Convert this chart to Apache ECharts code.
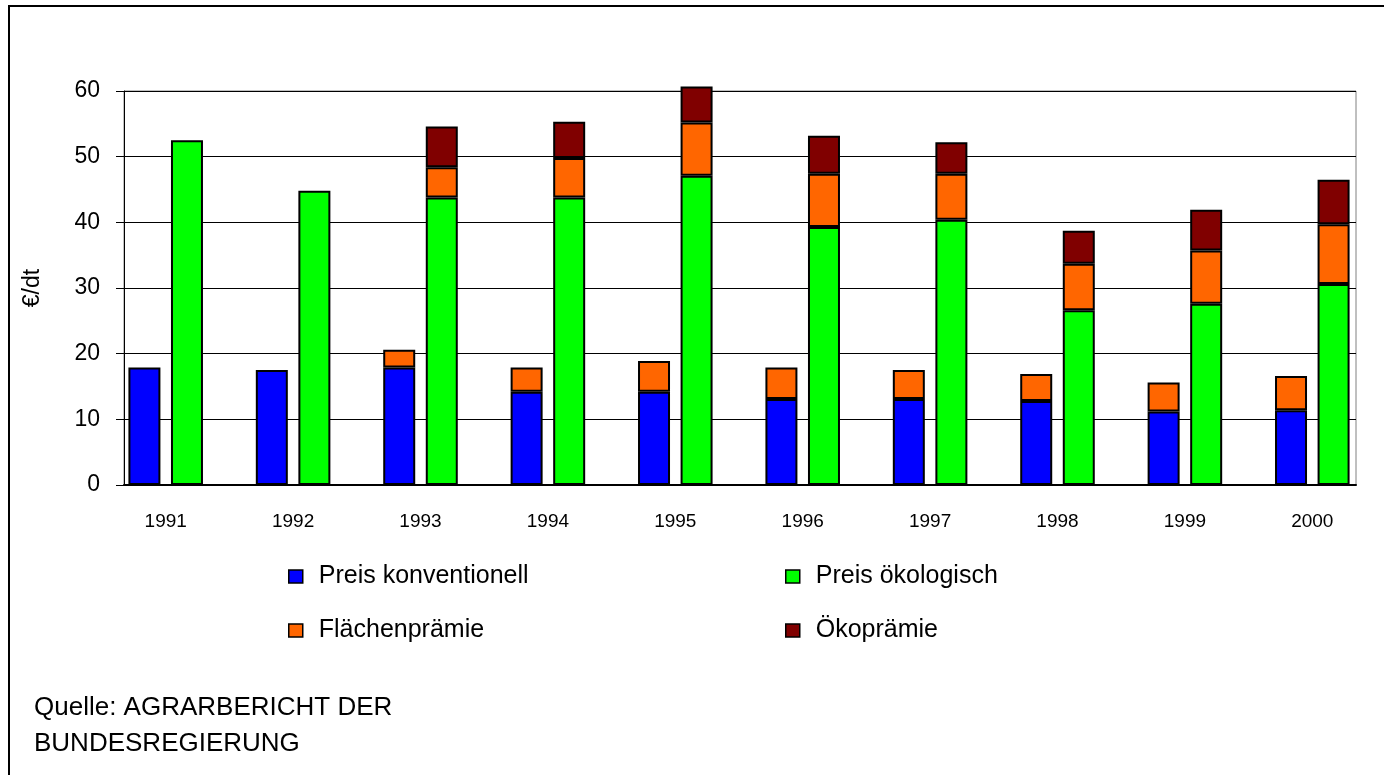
<!DOCTYPE html>
<html>
<head>
<meta charset="utf-8">
<script src="https://cdn.jsdelivr.net/npm/echarts@6/dist/echarts.min.js"></script>
<style>
  html, body { margin: 0; padding: 0; background: #fff; }
  #main { width: 1384px; height: 775px; }
</style>
</head>
<body>
<div id="main"></div>
<script>
const years = ['1991', '1992', '1993', '1994', '1995', '1996', '1997', '1998', '1999', '2000'];
const preisKonv = [17.9, 17.5, 17.9, 14.2, 14.2, 13.1, 13.1, 12.8, 11.2, 11.4];
const flaecheKonv = ['-', '-', 2.7, 3.7, 4.7, 4.8, 4.4, 4.1, 4.4, 5.2];
const preisOeko = [52.5, 44.8, 43.8, 43.8, 47.1, 39.3, 40.4, 26.6, 27.6, 30.6];
const flaecheOeko = ['-', '-', 4.6, 6.0, 8.1, 8.1, 7.0, 7.1, 8.1, 9.1];
const oekoPraemie = ['-', '-', 6.2, 5.5, 5.5, 5.8, 4.8, 5.0, 6.2, 6.8];
const yTicks = [0, 10, 20, 30, 40, 50, 60];

const font = 'Liberation Sans, Arial, sans-serif';
const border = { borderColor: '#000', borderWidth: 2 };

let chartDom = document.getElementById('main');
let myChart = echarts.init(chartDom);
let option;

function legendAt(name, left, top) {
  return {
    data: [name],
    left: left,
    top: top,
    padding: 0,
    icon: 'rect',
    itemWidth: 14,
    itemHeight: 13,
    selectedMode: false,
    itemStyle: { borderColor: '#000', borderWidth: 1.5 },
    textStyle: { fontFamily: font, fontSize: 25, color: '#000', padding: [0, 0, 0, 11] }
  };
}

option = {
  animation: false,
  backgroundColor: '#fff',
  textStyle: { fontFamily: font },
  graphic: [
    {
      type: 'rect',
      shape: { x: 9, y: 6, width: 1420, height: 820 },
      style: { fill: 'none', stroke: '#000', lineWidth: 2 },
      silent: true
    },
    {
      type: 'text',
      left: 34,
      top: 690,
      style: {
        text: 'Quelle: AGRARBERICHT DER\nBUNDESREGIERUNG',
        font: '26px Liberation Sans, Arial, sans-serif',
        lineHeight: 36,
        fill: '#000'
      }
    }
  ],
  legend: [
    legendAt('Preis konventionell', 288, 564),
    legendAt('Preis ökologisch', 785, 564),
    legendAt('Flächenprämie', 288, 618),
    legendAt('Ökoprämie', 785, 618)
  ],
  grid: [
    { left: 124, right: 28, top: 91, bottom: 290, show: true, borderColor: '#808080', borderWidth: 1 },
    { left: 102, right: 8, top: 91, bottom: 290 }
  ],
  xAxis: [
    {
      type: 'category',
      gridIndex: 0,
      data: years,
      axisLine: { lineStyle: { color: '#000', width: 2 } },
      axisTick: { show: false },
      axisLabel: { show: false }
    },
    {
      type: 'category',
      gridIndex: 1,
      data: years,
      axisLine: { show: false },
      axisTick: { show: false },
      axisLabel: { color: '#000', fontSize: 19, margin: 27 }
    }
  ],
  yAxis: [
    {
      type: 'value',
      gridIndex: 0,
      min: yTicks[0],
      max: yTicks[yTicks.length - 1],
      interval: 10,
      name: '€/dt',
      nameLocation: 'middle',
      nameRotate: 90,
      nameGap: 80,
      nameTextStyle: { color: '#000', fontSize: 23 },
      axisLine: { show: true, lineStyle: { color: '#000', width: 1 } },
      axisTick: { show: true, length: 8, lineStyle: { color: '#000' } },
      axisLabel: { color: '#000', fontSize: 23, margin: 24 },
      splitLine: { show: true, lineStyle: { color: '#000', width: 1 } }
    },
    {
      type: 'value',
      gridIndex: 1,
      min: 0,
      max: 60,
      show: false
    }
  ],
  series: [
    {
      name: 'Preis konventionell',
      type: 'bar',
      xAxisIndex: 1,
      yAxisIndex: 1,
      stack: 'konv',
      barWidth: 32,
      barGap: '33%',
      clip: false,
      itemStyle: Object.assign({ color: '#0000FF' }, border),
      data: preisKonv
    },
    {
      name: 'Preis ökologisch',
      type: 'bar',
      xAxisIndex: 1,
      yAxisIndex: 1,
      stack: 'oeko',
      barWidth: 32,
      barGap: '33%',
      clip: false,
      itemStyle: Object.assign({ color: '#00FF00' }, border),
      data: preisOeko
    },
    {
      name: 'Flächenprämie',
      type: 'bar',
      xAxisIndex: 1,
      yAxisIndex: 1,
      stack: 'konv',
      barWidth: 32,
      clip: false,
      itemStyle: Object.assign({ color: '#FF6600' }, border),
      data: flaecheKonv
    },
    {
      name: 'Flächenprämie',
      type: 'bar',
      xAxisIndex: 1,
      yAxisIndex: 1,
      stack: 'oeko',
      barWidth: 32,
      clip: false,
      itemStyle: Object.assign({ color: '#FF6600' }, border),
      data: flaecheOeko
    },
    {
      name: 'Ökoprämie',
      type: 'bar',
      xAxisIndex: 1,
      yAxisIndex: 1,
      stack: 'oeko',
      barWidth: 32,
      clip: false,
      itemStyle: Object.assign({ color: '#800000' }, border),
      data: oekoPraemie
    }
  ]
};

myChart.setOption(option);
</script>
</body>
</html>
